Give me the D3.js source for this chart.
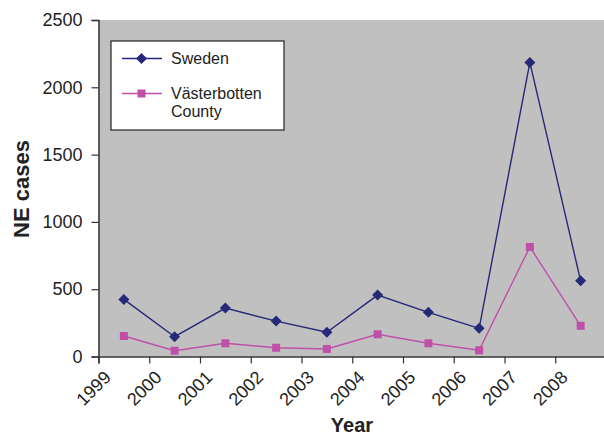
<!DOCTYPE html>
<html>
<head>
<meta charset="utf-8">
<script src="https://cdn.jsdelivr.net/npm/d3@7"></script>
<style>
  html, body { margin: 0; padding: 0; background: #fff; }
  svg { display: block; font-family: "Liberation Sans", Arial, sans-serif; }
</style>
</head>
<body>
<svg id="chart" width="604" height="433"></svg>
<script>
// Nephropathia epidemica (NE) cases per year
const years = [1999, 2000, 2001, 2002, 2003, 2004, 2005, 2006, 2007, 2008];
const swedenCases = [424, 147, 360, 263, 180, 456, 328, 209, 2185, 562];
const vasterbottenCases = [152, 43, 98, 65, 56, 165, 98, 46, 814, 228];
const yTicks = [0, 500, 1000, 1500, 2000, 2500];
const seriesNames = ["Sweden", "Västerbotten County"];

const svg = d3.select("#chart");
const plotLeft = 98.5, plotRight = 606, plotTop = 20, plotBottom = 356.5;

const x = d3.scaleLinear().domain([1999, 2009]).range([plotLeft, plotRight]);
const y = d3.scaleLinear().domain([0, 2500]).range([plotBottom, plotTop]);

// plot background
svg.append("rect")
  .attr("x", plotLeft).attr("y", plotTop)
  .attr("width", plotRight - plotLeft).attr("height", plotBottom - plotTop)
  .attr("fill", "#c0c0c0");

// y axis
const yAxis = svg.append("g")
  .attr("transform", `translate(${plotLeft},0)`)
  .call(d3.axisLeft(y).tickValues(yTicks).tickSize(7).tickPadding(9).tickFormat(d3.format("d")));
yAxis.select(".domain").attr("stroke", "#333").attr("stroke-width", 1.5);
yAxis.selectAll(".tick line").attr("stroke", "#333").attr("stroke-width", 1.2);
yAxis.selectAll("text").attr("font-size", 18).attr("fill", "#222")
  .attr("font-family", "Liberation Sans, Arial, sans-serif");

// x axis
const xAxis = svg.append("g")
  .attr("transform", `translate(0,${plotBottom})`)
  .call(d3.axisBottom(x).tickValues(years).tickSize(7).tickFormat(d3.format("d")));
xAxis.select(".domain").attr("stroke", "#333").attr("stroke-width", 1.5);
xAxis.selectAll(".tick line").attr("stroke", "#333").attr("stroke-width", 1.2);
xAxis.selectAll("text")
  .attr("font-size", 18).attr("fill", "#222")
  .attr("font-family", "Liberation Sans, Arial, sans-serif")
  .attr("text-anchor", "end")
  .attr("dy", null).attr("y", null)
  .attr("transform", "translate(13,22) rotate(-45)");

// axis titles
svg.append("text")
  .attr("x", 352).attr("y", 432)
  .attr("text-anchor", "middle")
  .attr("font-size", 20).attr("font-weight", "bold").attr("fill", "#222")
  .text("Year");
svg.append("text")
  .attr("transform", "translate(29,189) rotate(-90)")
  .attr("text-anchor", "middle")
  .attr("font-size", 22).attr("font-weight", "bold").attr("fill", "#222")
  .text("NE cases");

const colors = ["#262878", "#c04fa8"];
const line = d3.line().x((d, i) => x(years[i] + 0.5)).y(d => y(d));

function diamond(g, cx, cy, r, color) {
  g.append("path")
    .attr("d", `M${cx},${cy - r}L${cx + r},${cy}L${cx},${cy + r}L${cx - r},${cy}Z`)
    .attr("fill", color);
}
function square(g, cx, cy, s, color) {
  g.append("rect")
    .attr("x", cx - s / 2).attr("y", cy - s / 2)
    .attr("width", s).attr("height", s)
    .attr("fill", color);
}

// Västerbotten series
const gV = svg.append("g");
gV.append("path").datum(vasterbottenCases)
  .attr("d", line).attr("fill", "none")
  .attr("stroke", colors[1]).attr("stroke-width", 1.4);
vasterbottenCases.forEach((v, i) => square(gV, x(years[i] + 0.5), y(v), 8, colors[1]));

// Sweden series
const gS = svg.append("g");
gS.append("path").datum(swedenCases)
  .attr("d", line).attr("fill", "none")
  .attr("stroke", colors[0]).attr("stroke-width", 1.4);
swedenCases.forEach((v, i) => diamond(gS, x(years[i] + 0.5), y(v), 5.5, colors[0]));

// legend
const lg = svg.append("g");
lg.append("rect")
  .attr("x", 111).attr("y", 41).attr("width", 173).attr("height", 89)
  .attr("fill", "#fff").attr("stroke", "#222").attr("stroke-width", 1.2);
lg.append("line").attr("x1", 122).attr("x2", 162).attr("y1", 58.5).attr("y2", 58.5)
  .attr("stroke", colors[0]).attr("stroke-width", 1.4);
diamond(lg, 141.5, 58.5, 5.5, colors[0]);
lg.append("text").attr("x", 171).attr("y", 64).attr("font-size", 16).attr("fill", "#222")
  .text(seriesNames[0]);
lg.append("line").attr("x1", 122).attr("x2", 162).attr("y1", 93.5).attr("y2", 93.5)
  .attr("stroke", colors[1]).attr("stroke-width", 1.4);
square(lg, 141.5, 93.5, 8, colors[1]);
const vt = lg.append("text").attr("x", 171).attr("y", 98.5).attr("font-size", 16).attr("fill", "#222");
vt.append("tspan").attr("x", 171).text("Västerbotten");
vt.append("tspan").attr("x", 171).attr("dy", 18.5).text("County");
</script>
</body>
</html>
